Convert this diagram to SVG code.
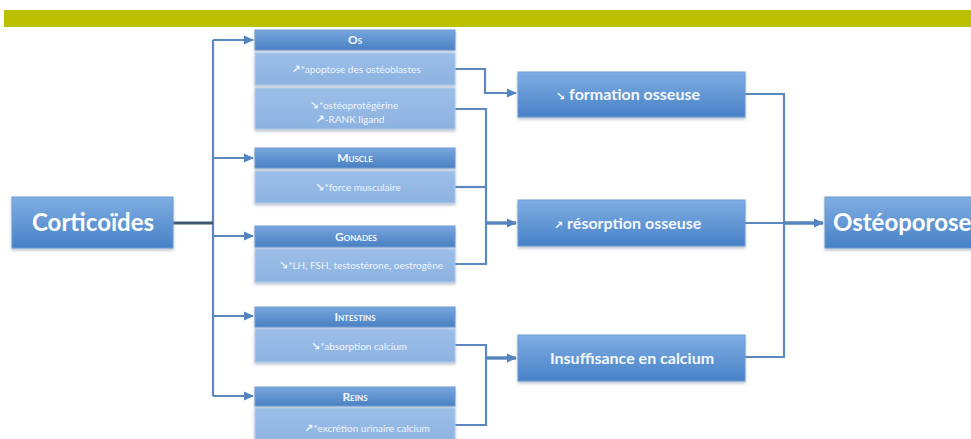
<svg xmlns="http://www.w3.org/2000/svg" width="971" height="439" viewBox="0 0 971 439">
<defs>
<linearGradient id="gMain" x1="0" y1="0" x2="0" y2="1">
<stop offset="0" stop-color="#80aee3"/>
<stop offset="1" stop-color="#4781c6"/>
</linearGradient>
<linearGradient id="gHead" x1="0" y1="0" x2="0" y2="1">
<stop offset="0" stop-color="#78a6dd"/>
<stop offset="1" stop-color="#4a80c3"/>
</linearGradient>
<linearGradient id="gDet" x1="0" y1="0" x2="0" y2="1">
<stop offset="0" stop-color="#9cbfe8"/>
<stop offset="1" stop-color="#8cb2e0"/>
</linearGradient>
<filter id="sh" x="-10%" y="-20%" width="120%" height="150%">
<feDropShadow dx="0" dy="2" stdDeviation="1.5" flood-color="#6a7f99" flood-opacity="0.45"/>
</filter>
<marker id="ar" markerUnits="userSpaceOnUse" markerWidth="10" markerHeight="10" viewBox="0 0 10 10" refX="9" refY="5" orient="auto">
<path d="M0,0.5 L10,5 L0,9.5 Z" fill="#5684be"/>
</marker>
</defs>
<style>
.main{fill:url(#gMain);stroke:#6d9bd2;stroke-width:1;filter:url(#sh)}
.head{fill:url(#gHead);stroke:#6f9bd2;stroke-width:1;filter:url(#sh)}
.det{fill:url(#gDet);stroke:#b4cdec;stroke-width:1;filter:url(#sh)}
.big{font-family:Lato,"Open Sans","Liberation Sans",sans-serif;font-weight:bold;fill:#fff}
.mid{font-family:Lato,"Open Sans","Liberation Sans",sans-serif;font-weight:bold;fill:#f4f8fd;font-size:16px}
.hd{font-family:Lato,"Open Sans","Liberation Sans",sans-serif;font-weight:bold;fill:#f4f8fd;font-size:12px;font-variant:small-caps;text-anchor:middle}
.dt{font-family:Lato,"Open Sans","Liberation Sans",sans-serif;fill:#eef4fc;font-size:10px;text-anchor:middle}
.ic{font-family:"DejaVu Sans",sans-serif;font-weight:bold;font-size:11px}
.cn{fill:none;stroke:#5b88c0;stroke-width:2.2}
.ck{fill:none;stroke:#5684be;stroke-width:3.4}
</style>
<rect x="4" y="10" width="967" height="17" fill="#bbc100"/>

<g id="connectors">
<path class="cn" d="M213 40 V396"/>
<path fill="none" stroke="#3e5878" stroke-width="3" d="M173 223 H213"/>
<path class="cn" d="M213 40 H253" marker-end="url(#ar)"/>
<path class="cn" d="M213 158 H253" marker-end="url(#ar)"/>
<path class="cn" d="M213 236 H253" marker-end="url(#ar)"/>
<path class="cn" d="M213 316 H253" marker-end="url(#ar)"/>
<path class="cn" d="M213 396 H253" marker-end="url(#ar)"/>
<path class="cn" d="M455 69 H485 V93 H516" marker-end="url(#ar)"/>
<path class="cn" d="M455 109 H486 V264 H455"/>
<path class="cn" d="M455 187 H486"/>
<path class="ck" d="M486 223 H516" marker-end="url(#ar)"/>
<path class="cn" d="M455 345 H486 V425 H455"/>
<path class="ck" d="M486 358 H516" marker-end="url(#ar)"/>
<path class="cn" d="M745 94 H784 V357 H745"/>
<path class="cn" d="M745 223 H784"/>
<path class="ck" d="M784 223 H823" marker-end="url(#ar)"/>
</g>

<g id="corticoides">
<rect class="main" x="12" y="197" width="161" height="51"/>
<text class="big" x="93" y="231" font-size="24" text-anchor="middle">Corticoïdes</text>
</g>

<g id="os">
<rect class="head" x="255" y="30" width="200" height="20"/>
<text class="hd" x="355" y="44">Os</text>
<rect class="det" x="255" y="53" width="200" height="32"/>
<text class="dt" x="356" y="73"><tspan class="ic">↗</tspan>*apoptose des ostéoblastes</text>
<rect class="det" x="255" y="88" width="200" height="41"/>
<text class="dt" x="354" y="109"><tspan class="ic">↘</tspan>*ostéoprotégérine</text>
<text class="dt" x="350" y="123"><tspan class="ic">↗</tspan>-RANK ligand</text>
</g>

<g id="muscle">
<rect class="head" x="255" y="148" width="200" height="20"/>
<text class="hd" x="355" y="162">Muscle</text>
<rect class="det" x="255" y="171" width="200" height="32"/>
<text class="dt" x="358" y="191"><tspan class="ic">↘</tspan>*force musculaire</text>
</g>

<g id="gonades">
<rect class="head" x="255" y="226" width="200" height="21"/>
<text class="hd" x="356" y="241">Gonades</text>
<rect class="det" x="255" y="249" width="200" height="33"/>
<text class="dt" x="361" y="269"><tspan class="ic">↘</tspan>*LH, FSH, testostérone, oestrogène</text>
</g>

<g id="intestins">
<rect class="head" x="255" y="307" width="200" height="20"/>
<text class="hd" x="355" y="321">Intestins</text>
<rect class="det" x="255" y="329" width="200" height="33"/>
<text class="dt" x="359" y="350"><tspan class="ic">↘</tspan>*absorption calcium</text>
</g>

<g id="reins">
<rect class="head" x="255" y="387" width="200" height="19"/>
<text class="hd" x="355" y="401">Reins</text>
<rect class="det" x="255" y="408" width="200" height="36"/>
<text class="dt" x="367" y="432"><tspan class="ic">↗</tspan>*excrétion urinaire calcium</text>
</g>

<g id="formation">
<rect class="main" x="518" y="72" width="227" height="45"/>
<text class="mid" x="556" y="100"><tspan class="ic" font-size="13">↘</tspan> formation osseuse</text>
</g>

<g id="resorption">
<rect class="main" x="518" y="200" width="227" height="46"/>
<text class="mid" x="554" y="229"><tspan class="ic" font-size="13">↗</tspan> résorption osseuse</text>
</g>

<g id="insuffisance">
<rect class="main" x="518" y="335" width="227" height="46"/>
<text class="mid" x="632" y="364" text-anchor="middle">Insuffisance en calcium</text>
</g>

<g id="osteoporose">
<rect class="main" x="825" y="197" width="160" height="51"/>
<text class="big" x="833" y="231" font-size="24">Ostéoporose</text>
</g>
</svg>
